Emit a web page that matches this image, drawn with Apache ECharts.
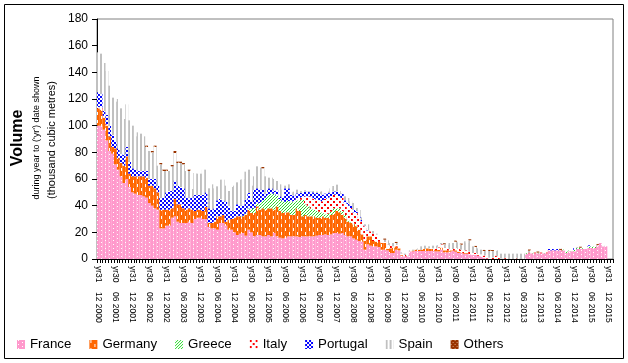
<!DOCTYPE html>
<html>
<head>
<meta charset="utf-8">
<script src="https://cdn.jsdelivr.net/npm/echarts@6/dist/echarts.min.js"></script>
<style>html,body{margin:0;padding:0;background:#fff}#c{width:628px;height:363px}</style>
</head>
<body>
<div id="c"></div>
<script>
// Month-end categories Dec 2000 .. Jan 2016 (labels shown every 6 months)
const categoryCount = 182;
const seriesNames = ['France', 'Germany', 'Greece', 'Italy', 'Portugal', 'Spain', 'Others'];
const yTicks = { min: 0, max: 180, interval: 20 };

const france = [
  100,100,97,89,81,79,71,67,62,57,60,54,50,49,48,48,47,46,42,40,38,37,23,23,
  25,25,31,32,28,27,27,27,28,27,30,31,31,30,30,24,23,23,22,27,27,
  25,22,22,20,18,19,19.5,17.5,22,20,17,18,18,17,17,18,17,19.5,17,16,15.5,16,17,17,17,
  17,16.5,17,17,17,17,17,17.5,18,18,18.5,18,18.5,19.5,19.5,19,19.5,18,17,17,15.5,14.5,13.5,13,7,11,10,9.5,9.5,9,7,7,6.5,4.5,4.5,7,6.5,2.5,2,2,5.75,
  5.75,6,6,6,6,6,6,6,5.75,5.75,7,5,5,5.5,6,5.5,4.5,4.5,4,4,3.5,3,3,
  2.5,2,1,0.5,0,0,0,0,0,0,0,0,0,0,0,0,0,
  4,4.3,4.3,4.3,4.3,4.3,4.3,4.3,6.5,6.5,6.5,6.5,6.5,6.5,4.5,5.75,5.75,5.75,7.5,7.5,7.5,7.5,8.25,8.25,8.25,10,12,9.5,9.5
];
const germany = [
  13,12,9,11,11,5,12,9,10,13,17,10,12,13,14,14,15,15,13,15,15,13,14,14,
  12,12,7,13,13,14,11,10,10,10,6,6,6,6,9,3,4,5,10,5,6,
  3,7.5,8,11,14,13,12.5,15.5,15,14.5,17.5,21.5,19,21,20,20,21,17.5,22.5,20,19,19,18,16,16,
  21,19.5,15,16,15,15,15,13.5,13,14,12.5,13,14.5,14.5,16.5,16,13.5,13,11,10,10.5,10,8.5,5.5,6.5,6,7,4,3.5,4,5,5,1,3.5,4,2.5,1.5,0.5,0,0,0,
  0.5,1,1,1,1.5,2,1.5,1.5,1,1,1.5,1.5,1.5,1,0.5,1,1,0.5,0.5,0.5,0,0,0,
  0,0,0,0,0,0,0,0,0,0,0,0,0,0,0,0,0,
  0,0,0,0,0,0,0,0,0,0,0,0,0,0,0,0,0,0,0,0,0,0,0,0,0,0,0,0,0
];
const greece = [
  0,0,0,0,0,0,0,0,0,0,0,0,0,0,0,0,0,0,0,0,0,0,0,0,0,
  0,0,0,0,0,0,0,0,0,0,0,0,0,0,0,0,0,0,0,0,0,0,0,0,0,
  0,0.5,1,1,3,4,2,5,6,9,10,11,12,8,9,9,8,8.5,10,10,
  6,8.5,12.5,8,8,6,5,5,4.5,3,2.5,3,2.5,4,2,3,3,2,1.5,0.5,0.5,0.5,
  0,0,0,0,0,0,0,0,0,0,0,0,0,0,0,0,0,0,0,0,0,0,0,0,0,0,0,0,0,0,
  0,0,0,0,0,0,0,0,0,0,0,0,0,0,0,0,0,0,0,0,0,0,0,0,0,0,0,0,0,
  0.5,0,0.5,0,0.5,0,0.5,0,0,0,0,0,0,0.5,1,0.5,0,1,1,1,0.5,0,1,1,1,0,0,0,0
];
const italy = [
  1,1.5,1.5,1,
  0,0,0,0,0,0,0,0,0,0,0,0,0,0,0,0,0,0,0,0,0,0,0,0,0,0,0,0,0,0,0,0,0,0,0,0,0,0,0,0,0,0,0,0,0,0,0,0,0,0,0,0,0,0,0,0,0,0,0,0,0,0,0,0,0,
  0.5,1.75,1.5,2,6,7,9,8,8.5,8.5,8.25,11.5,12,11.5,10.25,10.25,8,9.75,9,10.5,10.75,8.5,9.5,
  8.75,9.75,11,4,3.75,5.5,5.25,3,2.5,1,3.25,2,1,1,1.5,1,1,0.5,0,
  0,0,0,0,0,0,0.5,0.5,1,2,2.5,2,2,1,1,2,2,2,2,2,2,1.5,1.5,
  1.25,1.5,1.5,2.5,1,1,2.5,2,0.5,0.5,1,0,0,1,0,0,0,
  0,0.5,0,0.5,0,0.5,0.5,0.5,0,0,0,0,0.3,0,0,0,0,0,0,0,0,0,0,0,0,0,0,0,0
];
const portugal = [
  11,10.5,3.5,7,8,9,5,7,7,8,7,9,6,5,4,4,4,5,5,5,7,5,9,9,
  13,14,13,14,14,13,15,9,8,9,12,11,11,12,11,11,10,10,12,13,11,
  15,10.5,6,5,9,8,7.5,10.5,11.5,5.5,13.5,11.5,10,8,3,5,4,2,4.5,2,2.5,10,9.5,5,4,
  3.5,3.5,3,3.5,3.5,3.5,5,5,5,5,4,3.5,3,2.5,2.5,3,3,2,2,2,2,1.5,1,1,0.5,0.5,
  0,0,0,0,0,0,0,0,0,0,0,0,0,0,0,0,0,0,0,0,0,0,0,0,0,0,0,0,0,0,
  0,0,0,0,0,0,0,0,0,0,0,0,0,0,0,0,0,0,0,0,0,0,0,0,0,
  0,0,0,0,0,0,0,0,1,1,1,1,0,0,0,0,0,1.5,0,0,0,0,1,0,0,0,0,0,0
];
const spain = [
  30,30,36,33,30,28,30,37,34,27,32,31,32,25,29,28,26,18,21,20,24,15,25,20,
  16,15,18.5,20.5,17,18,18,20,20,6.5,16.5,16,16,19,17,15,19,15,10.5,14.5,15.5,
  12,11,18,19,16.5,19.5,20,21,17.5,12,10,16.5,16.5,16,13,8,8,9,6.5,9,6,2,3,2,3,
  2.75,1.5,1.5,1,0.5,0.5,1,1,1.5,2.5,0,1,3,4,5,2,0.5,3,3.75,3,5,2.25,5,2,1,4.5,
  0.5,2,0.75,0,0,1.5,3.25,2,2.5,1.5,0,1,1,0.5,0.75,
  0.75,0.5,1,2.5,2.5,1.5,1.5,2,2.25,1.75,1,2.5,2.25,4.5,4.5,4.5,5,3.75,6.75,5.5,8.5,5,4.5,
  4.25,3.5,3.5,3,5,5,3.5,4.5,3.5,3.5,3,4,4,3,4,4,4,
  0,1.5,0,0,0,0,0,0,0,0,0,0,0,0,0,0,0,0,0.5,0,0,0,0,0,0,0.5,0,0.5,0
];
const others = [
  0,0,0,0,0,0,0,0,0,0, 0,0,0,0,0,0,0,1,0,1, 1,0,1,1,1,0,1,1.5,1,1, 1,0,1,0,0,0,0,0,0,0,
  0,0,0,0,0,0,0,0,0,0, 0,0,0,0,0,0,0,0,1,0, 0,0,0,0,0,0,0,0,0,0, 0,0,0,0,0,0,0,0,0,0,
  0,0,0,0,0,0,0,0,0,0, 0,0,0,0,0,0,0,0,0,0, 0,0.8,0,0,0,0.8,0,0,0,0, 0,0,0,0,0,0,0,0,0,0,
  0,0,0.8,0,0,0,0.8,0,0.8,0, 0,0.8,0,0.8,0,0,0.8,0,0.8,0.7, 0,0,0,0,0,0,0,0,0,0,
  0,0,0.8,0,0,0.8,0,0,0,0, 0,0,0,0.8,0,0,0,0,0,0, 0.7,0,0,0,0,0,0.7,0,0,0
];

function monthLabel(i) {
  const k = 11 + i;
  const y = 2000 + Math.floor(k / 12);
  const m = k % 12 + 1;
  const d = new Date(Date.UTC(y, m, 0)).getUTCDate();
  return 'yr' + d + '    ' + (m < 10 ? '0' + m : '' + m) + ' ' + y;
}
const categories = [];
for (let i = 0; i < categoryCount; i++) categories.push(monthLabel(i));

function makePattern(w, h, bg, fg, rects) {
  const c = document.createElement('canvas');
  c.width = w; c.height = h;
  const ctx = c.getContext('2d');
  ctx.fillStyle = bg; ctx.fillRect(0, 0, w, h);
  ctx.fillStyle = fg;
  rects.forEach(r => ctx.fillRect(r[0], r[1], r[2] || 1, r[3] || 1));
  return { image: c, repeat: 'repeat' };
}
const patterns = [
  makePattern(8, 4, '#FF99CC', '#FFFFFF', [[1,0],[5,2]]),
  makePattern(8, 8, '#FF6600', '#FFFFFF', [[1,0,1,3],[5,4,1,3]]),
  makePattern(3, 3, '#FFFFFF', '#22DD22', [[2,0],[1,1],[0,2]]),
  makePattern(6, 6, '#FFFFFF', '#FF0000', [[0,0,2,2],[3,3,2,2]]),
  makePattern(4, 4, '#FFFFFF', '#0000FF', [[0,0,2,2],[2,2,2,2]]),
  makePattern(4, 1, '#FFFFFF', '#C0C0C0', [[0,0,2,1]]),
  makePattern(4, 4, '#993300', '#D9A27A', [[0,0],[2,2]])
];
const values = [france, germany, greece, italy, portugal, spain, others];

const FONT = '"Liberation Sans", Arial, sans-serif';
const chart = echarts.init(document.getElementById('c'), null, { renderer: 'canvas' });
chart.setOption({
  animation: false,
  backgroundColor: '#fff',
  grid: { left: 97, right: 15, top: 19, bottom: 104, show: true, borderColor: '#808080', borderWidth: 1, backgroundColor: 'transparent' },
  legend: {
    left: 17, top: 338, padding: 0, icon: 'rect', itemWidth: 8, itemHeight: 9, itemGap: 18,
    textStyle: { fontFamily: FONT, fontSize: 13.3, color: '#000' },
    data: seriesNames
  },
  xAxis: {
    type: 'category', data: categories, boundaryGap: true,
    axisLine: { lineStyle: { color: '#000', width: 1 } },
    axisTick: { show: true, interval: 0, length: 4, lineStyle: { color: '#000' } },
    axisLabel: { interval: 5, rotate: -90, margin: 7, fontFamily: FONT, fontSize: 8.5, color: '#000' },
    splitLine: { show: false }
  },
  yAxis: {
    type: 'value', min: yTicks.min, max: yTicks.max, interval: yTicks.interval,
    axisLine: { show: true, lineStyle: { color: '#000', width: 1 } },
    axisTick: { show: true, length: 5, lineStyle: { color: '#000' } },
    axisLabel: { margin: 9, fontFamily: FONT, fontSize: 12, color: '#000' },
    splitLine: { show: false }
  },
  graphic: [
    { type: 'rect', shape: { x: 4.5, y: 4.5, width: 619, height: 354 }, style: { fill: 'none', stroke: '#000', lineWidth: 1 }, silent: true },
    { type: 'text', x: 18, y: 138, rotation: Math.PI / 2, style: { text: 'Volume', font: 'bold 16px ' + FONT, fill: '#000', align: 'center', verticalAlign: 'middle' } },
    { type: 'text', x: 37, y: 138, rotation: Math.PI / 2, style: { text: "during year to ('yr') date shown", font: '9px ' + FONT, fill: '#000', align: 'center', verticalAlign: 'middle' } },
    { type: 'text', x: 52, y: 140, rotation: Math.PI / 2, style: { text: '(thousand cubic metres)', font: '11px ' + FONT, fill: '#000', align: 'center', verticalAlign: 'middle' } }
  ],
  series: seriesNames.map((name, k) => ({
    name: name, type: 'bar', stack: 'total', data: values[k],
    barCategoryGap: '0%', barGap: '0%',
    itemStyle: { color: patterns[k], borderWidth: 0 },
    emphasis: { disabled: true }
  }))
});
</script>
</body>
</html>
